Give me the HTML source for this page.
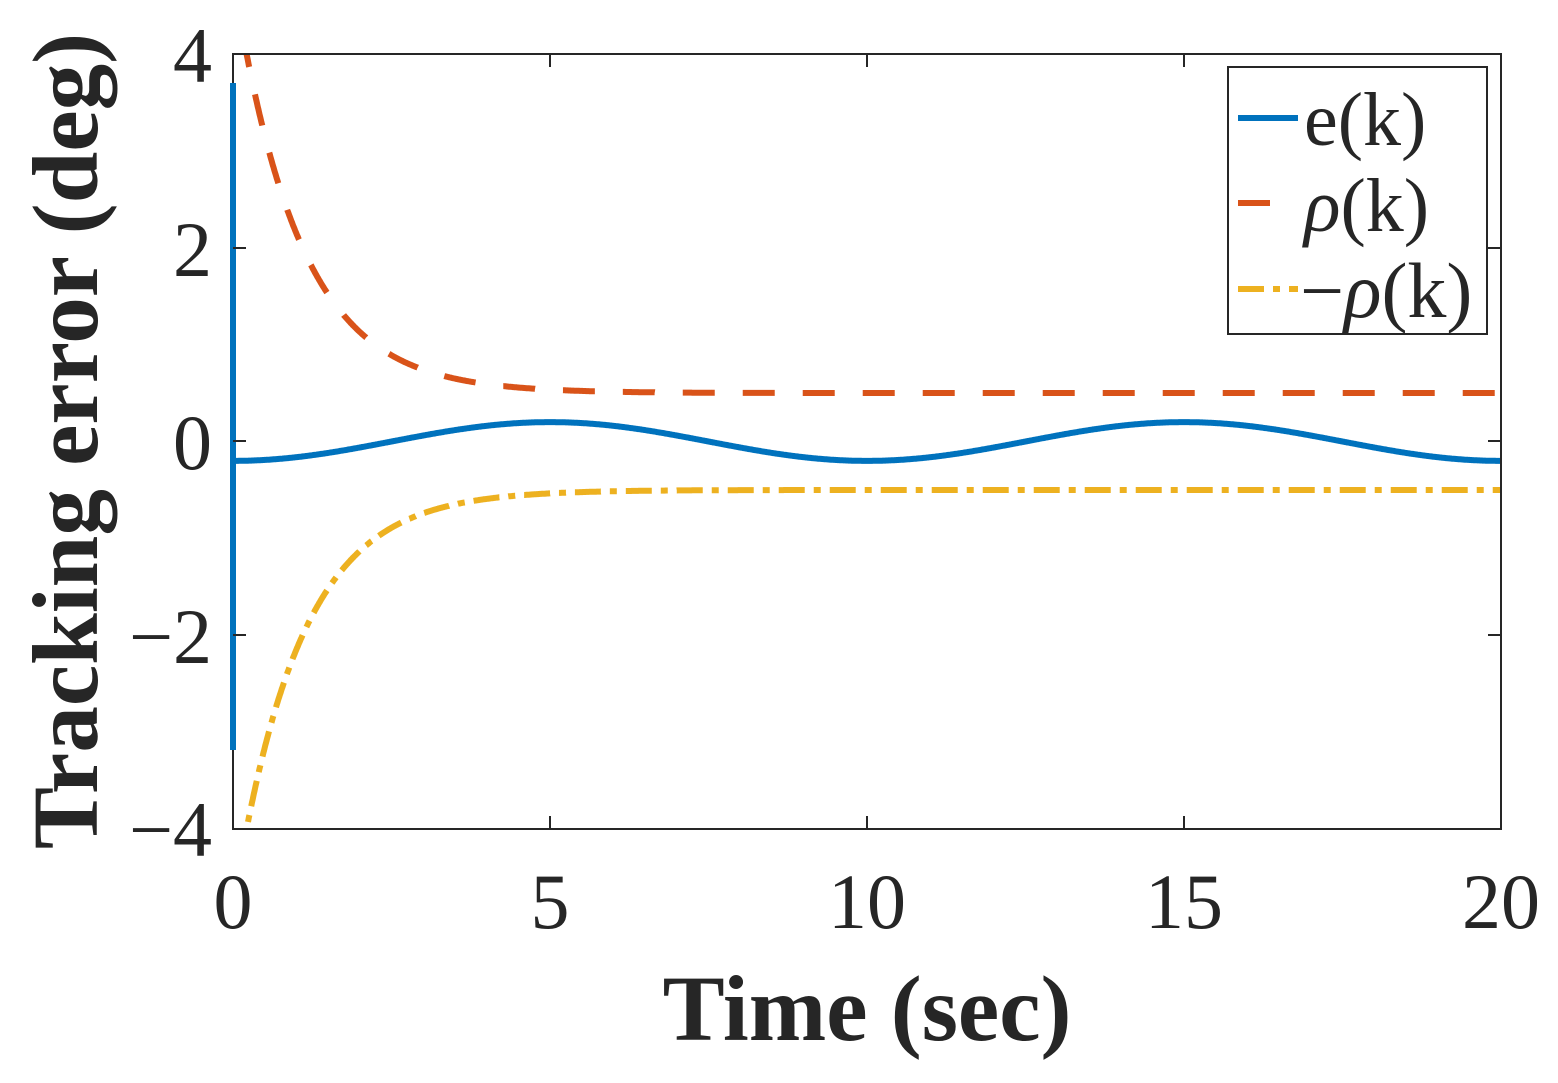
<!DOCTYPE html>
<html><head><style>body{margin:0;background:#fff}</style></head><body>
<svg width="1558" height="1078" xmlns="http://www.w3.org/2000/svg" font-family="Liberation Serif, serif">
<defs><clipPath id="c"><rect x="233" y="54" width="1268" height="775"/></clipPath></defs>
<rect width="1558" height="1078" fill="#fff"/>
<g id="curves" clip-path="url(#c)"></g>
<rect x="233" y="54" width="1268" height="775" fill="none" stroke="#262626" stroke-width="2"/>
<line x1="233" y1="83" x2="233" y2="750" stroke="#0072BD" stroke-width="6"/>
<g stroke="#262626" stroke-width="2">
<line x1="550" y1="829" x2="550" y2="816"/><line x1="867" y1="829" x2="867" y2="816"/><line x1="1184" y1="829" x2="1184" y2="816"/>
<line x1="550" y1="54" x2="550" y2="67"/><line x1="867" y1="54" x2="867" y2="67"/><line x1="1184" y1="54" x2="1184" y2="67"/>
<line x1="233" y1="248" x2="246" y2="248"/><line x1="233" y1="441" x2="246" y2="441"/><line x1="233" y1="635" x2="246" y2="635"/>
<line x1="1501" y1="248" x2="1488" y2="248"/><line x1="1501" y1="441" x2="1488" y2="441"/><line x1="1501" y1="635" x2="1488" y2="635"/>
</g>
<g font-size="78" fill="#262626" text-anchor="middle">
<text x="233" y="928">0</text><text x="550" y="928">5</text><text x="867" y="928">10</text><text x="1184" y="928">15</text><text x="1501" y="928">20</text>
</g>
<g font-size="78" fill="#262626" text-anchor="end">
<text x="212" y="82">4</text><text x="212" y="276">2</text><text x="212" y="469">0</text><text x="212" y="663">−2</text><text x="212" y="856">−4</text>
</g>
<text x="867" y="1040" font-size="93" font-weight="bold" text-anchor="middle" fill="#262626">Time (sec)</text>
<text transform="translate(97,441) rotate(-90)" font-size="93" font-weight="bold" text-anchor="middle" fill="#262626">Tracking error (deg)</text>
<rect x="1228" y="67" width="259" height="267" fill="#fff" stroke="#262626" stroke-width="2"/>
<line x1="1238" y1="118" x2="1298" y2="118" stroke="#0072BD" stroke-width="6"/>
<line x1="1238" y1="203" x2="1298" y2="203" stroke="#D95319" stroke-width="6" stroke-dasharray="32,28"/>
<line x1="1238" y1="289" x2="1298" y2="289" stroke="#EDB120" stroke-width="6" stroke-dasharray="26,9,7,9"/>
<g font-size="76" fill="#262626">
<text x="1304" y="145">e(k)</text>
<text x="1304" y="231"><tspan font-style="italic">ρ</tspan>(k)</text>
<text x="1300" y="317" font-size="78">−<tspan font-style="italic">ρ</tspan>(k)</text>
</g>
</svg>
<script>
var X=t=>233+t*63.4, Y=v=>441.5-v*96.9;
var r='',b='',yl='';
for(var i=0;i<=2000;i++){var t=i*0.01;var rho=4.3*Math.exp(-0.96*t)+0.5;
r+=(r?'L':'M')+X(t).toFixed(1)+','+Y(rho).toFixed(1);
yl+=(yl?'L':'M')+X(t).toFixed(1)+','+Y(-rho).toFixed(1);
b+=(b?'L':'M')+X(t).toFixed(1)+','+Y(-0.2*Math.cos(2*Math.PI*t/10)).toFixed(1);}
document.getElementById('curves').innerHTML=
'<path d="'+r+'" fill="none" stroke="#D95319" stroke-width="6" stroke-dasharray="32,28"/>'+
'<path d="'+yl+'" fill="none" stroke="#EDB120" stroke-width="6" stroke-dasharray="26,9,7,9"/>'+
'<path d="'+b+'" fill="none" stroke="#0072BD" stroke-width="6"/>';
</script>
</body></html>
